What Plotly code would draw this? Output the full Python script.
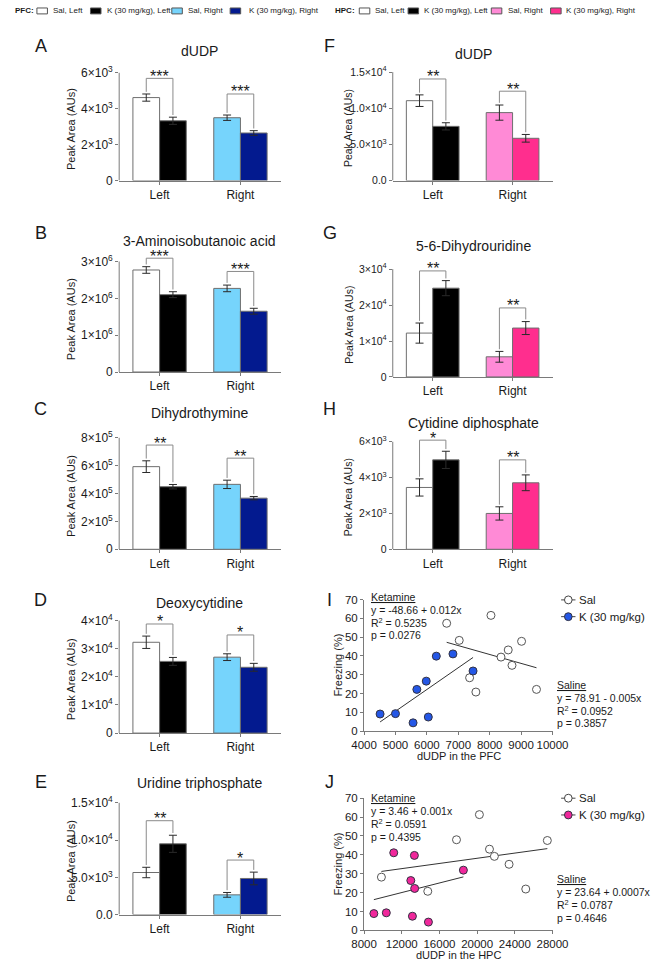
import plotly.graph_objects as go
import numpy as np

W, H = 668, 966
FONT = "Liberation Sans, Arial, sans-serif"
TXT = "#1a1a1a"
AXC = "#7a7a7a"
EDGE = "#6e6e6e"
ERR = "#2a2a2a"
BRK = "#8a8a8a"

groups = ["Left", "Right"]

# ---------------- bar panel data (mean, SEM) ----------------
A_sal = [4620, 3500]; A_sal_sem = [200, 150]
A_k = [3330, 2650]; A_k_sem = [200, 130]
A_sig = ["***", "***"]; A_bracket = [5690, 4820]
A_ticks = [0, 2000, 4000, 6000]
A_ticktext = ["0", "2×10<sup>3</sup>", "4×10<sup>3</sup>", "6×10<sup>3</sup>"]

B_sal = [2.77e6, 2.27e6]; B_sal_sem = [0.09e6, 0.09e6]
B_k = [2.10e6, 1.65e6]; B_k_sem = [0.08e6, 0.08e6]
B_sig = ["***", "***"]; B_bracket = [3.09e6, 2.73e6]
B_ticks = [0, 1e6, 2e6, 3e6]
B_ticktext = ["0", "1×10<sup>6</sup>", "2×10<sup>6</sup>", "3×10<sup>6</sup>"]

C_sal = [5.93e5, 4.66e5]; C_sal_sem = [0.42e5, 0.3e5]
C_k = [4.49e5, 3.67e5]; C_k_sem = [0.16e5, 0.12e5]
C_sig = ["**", "**"]; C_bracket = [7.48e5, 6.54e5]
C_ticks = [0, 2e5, 4e5, 6e5, 8e5]
C_ticktext = ["0", "2×10<sup>5</sup>", "4×10<sup>5</sup>", "6×10<sup>5</sup>", "8×10<sup>5</sup>"]

D_sal = [3.23e4, 2.70e4]; D_sal_sem = [0.22e4, 0.12e4]
D_k = [2.55e4, 2.34e4]; D_k_sem = [0.14e4, 0.14e4]
D_sig = ["*", "*"]; D_bracket = [3.88e4, 3.49e4]
D_ticks = [0, 1e4, 2e4, 3e4, 4e4]
D_ticktext = ["0", "1×10<sup>4</sup>", "2×10<sup>4</sup>", "3×10<sup>4</sup>", "4×10<sup>4</sup>"]

E_sal = [5650, 2650]; E_sal_sem = [700, 320]
E_k = [9500, 4850]; E_k_sem = [1150, 850]
E_sig = ["**", "*"]; E_bracket = [12600, 7320]
E_ticks = [0, 5000, 10000, 15000]
E_ticktext = ["0.0", "5.0×10<sup>3</sup>", "1.0×10<sup>4</sup>", "1.5×10<sup>4</sup>"]

F_sal = [11050, 9400]; F_sal_sem = [800, 1050]
F_k = [7500, 5850]; F_k_sem = [500, 530]
F_sig = ["**", "**"]; F_bracket = [14050, 12360]
F_ticks = [0, 5000, 10000, 15000]
F_ticktext = ["0.0", "5.0×10<sup>3</sup>", "1.0×10<sup>4</sup>", "1.5×10<sup>4</sup>"]

G_sal = [12200, 5600]; G_sal_sem = [2800, 1500]
G_k = [24700, 13600]; G_k_sem = [2100, 1800]
G_sig = ["**", "**"]; G_bracket = [29500, 19200]
G_ticks = [0, 1e4, 2e4, 3e4]
G_ticktext = ["0", "1×10<sup>4</sup>", "2×10<sup>4</sup>", "3×10<sup>4</sup>"]

H_sal = [3450, 2000]; H_sal_sem = [480, 370]
H_k = [4990, 3710]; H_k_sem = [480, 440]
H_sig = ["*", "**"]; H_bracket = [6090, 4990]
H_ticks = [0, 2000, 4000, 6000]
H_ticktext = ["0", "2×10<sup>3</sup>", "4×10<sup>3</sup>", "6×10<sup>3</sup>"]

# ---------------- correlation data ----------------
I_sal_x = [6630, 7030, 8040, 8360, 8590, 8710, 9015, 9490, 7360, 7560]
I_sal_y = [57.4, 48.3, 61.6, 39.4, 43.2, 35.0, 47.8, 22.2, 28.4, 20.8]
I_k_x = [4510, 5000, 5560, 5680, 5980, 6045, 6300, 6830, 7470]
I_k_y = [9.1, 9.3, 4.4, 22.2, 26.6, 7.5, 39.9, 41.1, 32.0]

J_sal_x = [20240, 17810, 21310, 21830, 23390, 27450, 25160, 9840, 14760]
J_sal_y = [61.3, 48.0, 43.0, 39.2, 35.0, 47.6, 21.9, 28.2, 20.7]
J_k_x = [9040, 10360, 11150, 13340, 12960, 13370, 13130, 14830, 18540]
J_k_y = [8.9, 9.3, 41.1, 39.7, 26.4, 22.2, 7.5, 4.4, 31.9]

I_ket_text = ["<u>Ketamine</u>", "y = -48.66 + 0.012x", "R<sup>2</sup> = 0.5235", "p = 0.0276"]
I_sal_text = ["<u>Saline</u>", "y = 78.91 - 0.005x", "R<sup>2</sup> = 0.0952", "p = 0.3857"]
J_ket_text = ["<u>Ketamine</u>", "y = 3.46 + 0.001x", "R<sup>2</sup> = 0.0591", "p = 0.4395"]
J_sal_text = ["<u>Saline</u>", "y = 23.64 + 0.0007x", "R<sup>2</sup> = 0.0787", "p = 0.4646"]

PFC_colors = ["#ffffff", "#000000", "#76d4fc", "#031a8f"]
HPC_colors = ["#ffffff", "#000000", "#ff8ad6", "#ff2e8e"]
PFC_labels = ["Sal, Left", "K (30 mg/kg), Left", "Sal, Right", "K (30 mg/kg), Right"]
HPC_labels = ["Sal, Left", "K (30 mg/kg), Left", "Sal, Right", "K (30 mg/kg), Right"]

fig = go.Figure()
annotations = []
shapes = []
layout = {}


def px_x(p):
    return p / W


def px_y(p):
    return 1 - p / H


def text(xp, yp, s, size, xanchor="center", yanchor="middle", angle=0, color=TXT):
    annotations.append(dict(x=px_x(xp), y=px_y(yp), xref="paper", yref="paper", text=s,
                            showarrow=False, xanchor=xanchor, yanchor=yanchor, textangle=angle,
                            font=dict(family=FONT, size=size, color=color)))


AX = dict(showline=True, linecolor=AXC, linewidth=1, ticks="outside", ticklen=3, tickcolor=AXC,
          tickwidth=1, showgrid=False, zeroline=False, fixedrange=True,
          tickfont=dict(family=FONT, size=12, color=TXT))

BW = 0.33
EXT = 1.12  # headroom above the top tick so brackets/stars are not clipped
COLS = [dict(xpx=(111, 280), letter_x=29, ylab_x=60, title_x=195, tick_fs=12, lab_fs=11),
        dict(xpx=(397, 564), letter_x=331, ylab_x=351, title_x=481, tick_fs=10.5, lab_fs=10.5)]

bar_panels = [
    dict(i=1, col=0, L="A", title="dUDP", d=(A_sal, A_sal_sem, A_k, A_k_sem, A_sig, A_bracket, A_ticks, A_ticktext), c=PFC_colors, ypx=(67.7, 177), ly=41, ty=46),
    dict(i=2, col=0, L="B", title="3-Aminoisobutanoic acid", d=(B_sal, B_sal_sem, B_k, B_k_sem, B_sig, B_bracket, B_ticks, B_ticktext), c=PFC_colors, ypx=(259, 371), ly=230, ty=238),
    dict(i=3, col=0, L="C", title="Dihydrothymine", d=(C_sal, C_sal_sem, C_k, C_k_sem, C_sig, C_bracket, C_ticks, C_ticktext), c=PFC_colors, ypx=(437.7, 550.7), ly=408, ty=413),
    dict(i=4, col=0, L="D", title="Deoxycytidine", d=(D_sal, D_sal_sem, D_k, D_k_sem, D_sig, D_bracket, D_ticks, D_ticktext), c=PFC_colors, ypx=(623, 737), ly=602, ty=605),
    dict(i=5, col=0, L="E", title="Uridine triphosphate", d=(E_sal, E_sal_sem, E_k, E_k_sem, E_sig, E_bracket, E_ticks, E_ticktext), c=PFC_colors, ypx=(807.7, 921), ly=787, ty=788),
    dict(i=6, col=1, L="F", title="dUDP", d=(F_sal, F_sal_sem, F_k, F_k_sem, F_sig, F_bracket, F_ticks, F_ticktext), c=HPC_colors, ypx=(67, 177), ly=41, ty=49),
    dict(i=7, col=1, L="G", title="5-6-Dihydrouridine", d=(G_sal, G_sal_sem, G_k, G_k_sem, G_sig, G_bracket, G_ticks, G_ticktext), c=HPC_colors, ypx=(266.7, 376), ly=230, ty=243),
    dict(i=8, col=1, L="H", title="Cytidine diphosphate", d=(H_sal, H_sal_sem, H_k, H_k_sem, H_sig, H_bracket, H_ticks, H_ticktext), c=HPC_colors, ypx=(441.7, 550.7), ly=408, ty=423),
]


def ax_ids(i):
    s = "" if i == 1 else str(i)
    return "x" + s, "y" + s, s


for p in bar_panels:
    i = p["i"]
    col = COLS[p["col"]]
    sal, sal_sem, k, k_sem, sig, brk, ticks, ticktext = p["d"]
    xa, ya, key = ax_ids(i)
    ymax = ticks[-1]
    c = p["c"]
    fig.add_trace(go.Bar(x=[0, 1], y=sal, width=BW, offset=-BW, xaxis=xa, yaxis=ya,
                         marker=dict(color=[c[0], c[2]], line=dict(color=EDGE, width=1)),
                         error_y=dict(type="data", array=sal_sem, color=ERR, thickness=1, width=4),
                         showlegend=False, hoverinfo="skip"))
    fig.add_trace(go.Bar(x=[0, 1], y=k, width=BW, offset=0, xaxis=xa, yaxis=ya,
                         marker=dict(color=[c[1], c[3]], line=dict(color=EDGE, width=1)),
                         error_y=dict(type="data", array=k_sem, color=ERR, thickness=1, width=4),
                         showlegend=False, hoverinfo="skip"))
    gap = 0.02 * ymax
    for g in range(2):
        xl, xr = g - BW / 2, g + BW / 2
        fig.add_trace(go.Scatter(x=[xl, xl, xr, xr],
                                 y=[sal[g] + sal_sem[g] + gap, brk[g], brk[g], k[g] + k_sem[g] + gap],
                                 mode="lines", line=dict(color=BRK, width=1), xaxis=xa, yaxis=ya,
                                 showlegend=False, hoverinfo="skip"))
        annotations.append(dict(x=g, y=brk[g], xref=xa, yref=ya, text=sig[g], showarrow=False,
                                yanchor="middle", yshift=2, font=dict(family=FONT, size=16, color=TXT)))
    top_px = p["ypx"][1] - (p["ypx"][1] - p["ypx"][0]) * EXT
    layout["xaxis" + key] = dict(AX, domain=[px_x(col["xpx"][0]), px_x(col["xpx"][1])], anchor=ya,
                                 range=[-0.5, 1.5], tickvals=[0, 1], ticktext=groups)
    layout["yaxis" + key] = dict(AX, domain=[px_y(p["ypx"][1]), px_y(top_px)], anchor=xa,
                                 range=[0, ymax * EXT], tickvals=ticks, ticktext=ticktext, showline=False,
                                 tickfont=dict(family=FONT, size=col["tick_fs"], color=TXT))
    # y axis line only up to the top tick (GraphPad style)
    shapes.append(dict(type="line", xref=f"{xa} domain", yref=ya, x0=0, x1=0, y0=0, y1=ymax,
                       line=dict(color=AXC, width=1)))
    text(col["letter_x"], p["ly"], p["L"], 18)
    text(col["title_x"], p["ty"], p["title"], 14)
    text(col["ylab_x"], (p["ypx"][0] + p["ypx"][1]) / 2 + 2, "Peak Area (AUs)", col["lab_fs"], angle=-90)

# ---------------- correlation panels ----------------
scatter_panels = [
    dict(i=9, L="I", sx=I_sal_x, sy=I_sal_y, kx=I_k_x, ky=I_k_y, kc="#2457e6", xr=[4000, 10000], dt=1000,
         ypx=(601.7, 735), ly=602, xt="dUDP in the PFC", xty=760, ket=I_ket_text, sal=I_sal_text,
         ket_y=599, sal_y=688, leg_y=602),
    dict(i=10, L="J", sx=J_sal_x, sy=J_sal_y, kx=J_k_x, ky=J_k_y, kc="#f0279b", xr=[8000, 28000], dt=4000,
         ypx=(803, 937), ly=787, xt="dUDP in the HPC", xty=961.5, ket=J_ket_text, sal=J_sal_text,
         ket_y=803, sal_y=885, leg_y=803),
]
SX = (367, 564)
for p in scatter_panels:
    i = p["i"]
    xa, ya, key = ax_ids(i)
    for xs, ys in ((p["kx"], p["ky"]), (p["sx"], p["sy"])):
        m, b = np.polyfit(xs, ys, 1)
        ends = np.array([min(xs), max(xs)])
        fig.add_trace(go.Scatter(x=ends, y=m * ends + b, mode="lines", line=dict(color="#333333", width=1),
                                 xaxis=xa, yaxis=ya, showlegend=False, hoverinfo="skip"))
    fig.add_trace(go.Scatter(x=p["sx"], y=p["sy"], mode="markers", xaxis=xa, yaxis=ya, cliponaxis=False,
                             marker=dict(size=8, color="#ffffff", line=dict(color="#555555", width=1)),
                             showlegend=False, hoverinfo="skip"))
    fig.add_trace(go.Scatter(x=p["kx"], y=p["ky"], mode="markers", xaxis=xa, yaxis=ya, cliponaxis=False,
                             marker=dict(size=8, color=p["kc"], line=dict(color="#333344", width=1)),
                             showlegend=False, hoverinfo="skip"))
    layout["xaxis" + key] = dict(AX, domain=[px_x(SX[0]), px_x(SX[1])], anchor=ya, range=p["xr"],
                                 dtick=p["dt"], tick0=p["xr"][0], tickformat="d",
                                 tickfont=dict(family=FONT, size=11.5, color=TXT))
    layout["yaxis" + key] = dict(AX, domain=[px_y(p["ypx"][1]), px_y(p["ypx"][0])], anchor=xa, range=[0, 70],
                                 dtick=10, tickfont=dict(family=FONT, size=11.5, color=TXT))
    text(331, p["ly"], p["L"], 18)
    text(466, p["xty"], p["xt"], 11)
    text(340, (p["ypx"][0] + p["ypx"][1]) / 2, "Freezing (%)", 11, angle=-90)
    for j, s in enumerate(p["ket"]):
        text(372, p["ket_y"] + 13 * j, s, 10.5, xanchor="left")
    for j, s in enumerate(p["sal"]):
        text(567, p["sal_y"] + 13 * j, s, 10.5, xanchor="left")
    # legend
    for j, (nm, fc) in enumerate((("Sal", "#ffffff"), ("K (30 mg/kg)", p["kc"]))):
        yy = p["leg_y"] + 17 * j
        shapes.append(dict(type="line", xref="paper", yref="paper", x0=px_x(573), x1=px_x(588),
                           y0=px_y(yy), y1=px_y(yy), line=dict(color="#444", width=1)))
        shapes.append(dict(type="circle", xref="paper", yref="paper", x0=px_x(576.5), x1=px_x(584.5),
                           y0=px_y(yy + 4), y1=px_y(yy - 4), fillcolor=fc,
                           line=dict(color="#444" if j == 0 else "#333344", width=1)))
        text(590, yy, nm, 11.5, xanchor="left")

# ---------------- top legends ----------------
top_legends = [
    dict(title="PFC:", tx=0, colors=PFC_colors, labels=PFC_labels,
         sw=[25, 81, 166, 227], lx=[40, 96, 181, 245]),
    dict(title="HPC:", tx=334, colors=HPC_colors, labels=HPC_labels,
         sw=[362, 413, 500, 562], lx=[376, 428, 515, 576]),
]
for lg in top_legends:
    text(lg["tx"], 5, "<b>" + lg["title"] + "</b>", 8, xanchor="left")
    for sx, lx, col, lab in zip(lg["sw"], lg["lx"], lg["colors"], lg["labels"]):
        shapes.append(dict(type="rect", xref="paper", yref="paper", x0=px_x(sx), x1=px_x(sx + 11),
                           y0=px_y(8), y1=px_y(2), fillcolor=col, line=dict(color="#555", width=1)))
        text(lx, 5, lab, 8, xanchor="left")

fig.update_layout(width=W, height=H, margin=dict(l=0, r=0, t=0, b=0), paper_bgcolor="white",
                  plot_bgcolor="rgba(0,0,0,0)", showlegend=False, annotations=annotations, shapes=shapes,
                  font=dict(family=FONT, color=TXT), **layout)
fig.write_html("out.html", config={"displayModeBar": False, "staticPlot": True},
               post_script="document.body.style.margin='0';document.body.style.overflow='hidden';")
